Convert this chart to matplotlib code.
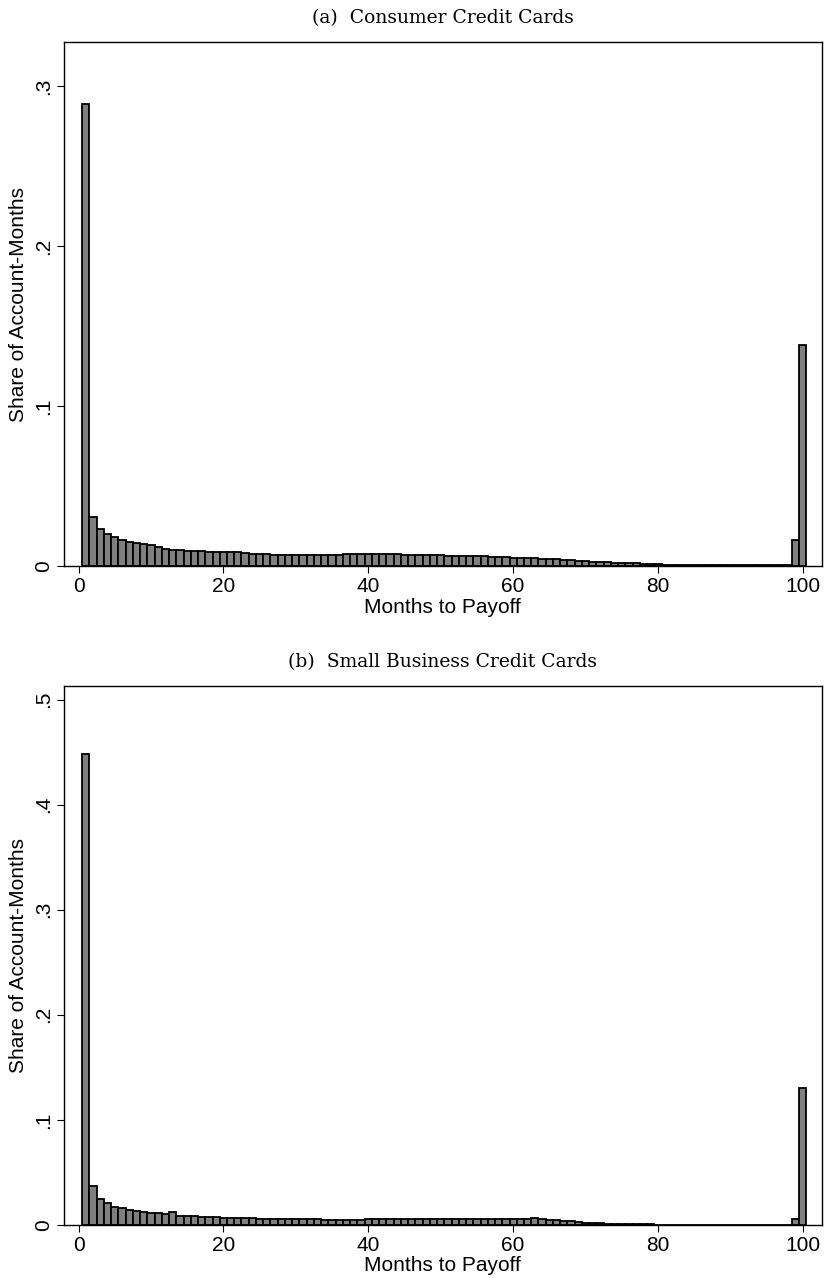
import numpy as np
import matplotlib
matplotlib.use("Agg")
import matplotlib.pyplot as plt

# months to payoff, 1..100 (100 = never / censored)
months = np.arange(1, 101)

consumer_share = [
    0.289, 0.0308, 0.0229, 0.0200, 0.0179, 0.0163, 0.0148, 0.0142, 0.0136, 0.0131,
    0.0120, 0.0108, 0.0102, 0.0100, 0.0096, 0.0094, 0.0092, 0.0090, 0.0090, 0.0088,
    0.0088, 0.0085, 0.0080, 0.0077, 0.0075, 0.0073, 0.0072, 0.0071, 0.0070, 0.0069,
    0.0068, 0.0068, 0.0068, 0.0069, 0.0070, 0.0072, 0.0073, 0.0074, 0.0075, 0.0075,
    0.0076, 0.0076, 0.0075, 0.0074, 0.0072, 0.0070, 0.0069, 0.0068, 0.0067, 0.0066,
    0.0065, 0.0064, 0.0063, 0.0062, 0.0062, 0.0061, 0.0058, 0.0056, 0.0054, 0.0052,
    0.0050, 0.0049, 0.0048, 0.0046, 0.0044, 0.0041, 0.0038, 0.0035, 0.0032, 0.0030,
    0.0028, 0.0026, 0.0024, 0.0022, 0.0020, 0.0018, 0.0016, 0.0014, 0.0012, 0.0010,
    0.0009, 0.0008, 0.0007, 0.0007, 0.0006, 0.0006, 0.0005, 0.0005, 0.0005, 0.0005,
    0.0005, 0.0005, 0.0005, 0.0005, 0.0005, 0.0005, 0.0005, 0.0005, 0.0163, 0.138,
]

business_share = [
    0.448, 0.0374, 0.0250, 0.0207, 0.0175, 0.0160, 0.0143, 0.0133, 0.0124, 0.0117,
    0.0111, 0.0102, 0.0119, 0.0089, 0.0086, 0.0083, 0.0080, 0.0076, 0.0073, 0.0070,
    0.0068, 0.0066, 0.0064, 0.0062, 0.0060, 0.0058, 0.0057, 0.0056, 0.0055, 0.0054,
    0.0054, 0.0053, 0.0053, 0.0052, 0.0052, 0.0052, 0.0052, 0.0052, 0.0052, 0.0053,
    0.0053, 0.0053, 0.0053, 0.0053, 0.0054, 0.0054, 0.0054, 0.0054, 0.0055, 0.0055,
    0.0055, 0.0055, 0.0054, 0.0054, 0.0054, 0.0054, 0.0055, 0.0055, 0.0060, 0.0055,
    0.0055, 0.0058, 0.0068, 0.0055, 0.0050, 0.0045, 0.0040, 0.0033, 0.0027, 0.0022,
    0.0018, 0.0015, 0.0012, 0.0010, 0.0008, 0.0007, 0.0006, 0.0005, 0.0005, 0.0004,
    0.0004, 0.0004, 0.0004, 0.0004, 0.0004, 0.0004, 0.0004, 0.0004, 0.0004, 0.0004,
    0.0004, 0.0004, 0.0004, 0.0004, 0.0004, 0.0004, 0.0004, 0.0004, 0.0060, 0.130,
]

titles = ["(a)  Consumer Credit Cards", "(b)  Small Business Credit Cards"]
consumer_yticks = [0, 0.1, 0.2, 0.3]
business_yticks = [0, 0.1, 0.2, 0.3, 0.4, 0.5]
xticks = [0, 20, 40, 60, 80, 100]

sans = ["Liberation Sans", "DejaVu Sans"]
serif = ["DejaVu Serif"]


def fmt_share(v):
    if v == 0:
        return "0"
    return ("%.1f" % v).lstrip("0")


def draw_panel(ax, shares, yticks, ytop, title):
    ax.bar(months, shares, width=1.0, color="#7f7f7f", edgecolor="black", linewidth=1.3)
    ax.set_xlim(-2.0, 102.6)
    ax.set_ylim(0, ytop)
    ax.set_xticks(xticks)
    ax.set_yticks(yticks)
    ax.set_xticklabels([str(t) for t in xticks], fontsize=15, family=sans)
    ax.set_yticklabels([fmt_share(t) for t in yticks], fontsize=15, family=sans,
                       rotation=90, va="center")
    ax.tick_params(direction="out", length=5, width=0.8, pad=3)
    ax.set_xlabel("Months to Payoff", fontsize=15, family=sans, labelpad=1)
    ax.set_ylabel("Share of Account-Months", fontsize=15, family=sans, labelpad=4)
    ax.set_title(title, fontsize=13.5, family=serif, pad=14)
    for sp in ax.spines.values():
        sp.set_linewidth(1.0)


fig = plt.figure(figsize=(8.25, 12.78), dpi=100)
ax1 = fig.add_axes([0.0776, 0.5571, 0.9184, 0.4100])
ax2 = fig.add_axes([0.0776, 0.0415, 0.9184, 0.4217])

draw_panel(ax1, consumer_share, consumer_yticks, 0.3275, titles[0])
draw_panel(ax2, business_share, business_yticks, 0.513, titles[1])

fig.savefig("out.png", dpi=100)
